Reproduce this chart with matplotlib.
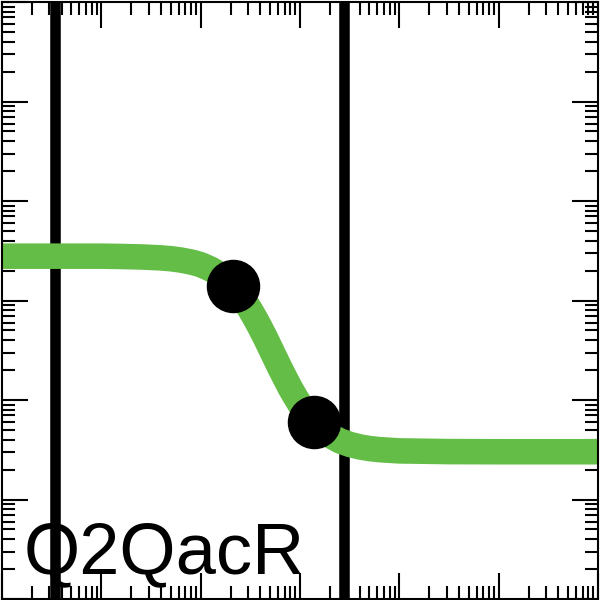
import numpy as np
import matplotlib
matplotlib.use('Agg')
import matplotlib.pyplot as plt
from matplotlib.ticker import LogLocator, NullFormatter

# curve (log-log axes)
curve_x = [0.001, 0.00316, 0.01, 0.0158, 0.0251, 0.0398, 0.0501, 0.0631, 0.0794, 0.0891,
           0.1, 0.112, 0.126, 0.141, 0.158, 0.178, 0.2, 0.224, 0.251, 0.282,
           0.316, 0.355, 0.398, 0.447, 0.501, 0.562, 0.631, 0.708, 0.794, 0.891,
           1.0, 1.12, 1.26, 1.41, 1.58, 2.0, 2.51, 3.16, 3.98, 5.01,
           6.31, 10.0, 31.6, 100.0, 1000.0]
curve_y = [2.79, 2.79, 2.79, 2.77, 2.74, 2.68, 2.63, 2.55, 2.44, 2.37,
           2.29, 2.18, 2.07, 1.94, 1.80, 1.64, 1.48, 1.31, 1.13, 0.962,
           0.804, 0.658, 0.532, 0.424, 0.335, 0.264, 0.208, 0.166, 0.133, 0.109,
           0.0904, 0.0767, 0.0662, 0.0583, 0.0522, 0.0440, 0.0389, 0.0358, 0.0338, 0.0325,
           0.0317, 0.0308, 0.0303, 0.0302, 0.0302]

# the two marked points
dot_x = [0.211, 1.37]
dot_y = [1.40, 0.0603]

# vertical reference lines
vline_x = [0.0034, 2.79]

label = 'Q2QacR'
green = '#64bd46'

fig = plt.figure(figsize=(6, 6), dpi=100)
ax = fig.add_axes([2/600, 1/600, 596/600, 597/600])

for xv in vline_x:
    ax.axvline(xv, color='black', lw=7.6, zorder=1)

ax.plot(curve_x, curve_y, color=green, lw=18.4, solid_capstyle='butt',
        solid_joinstyle='round', zorder=2)
ax.plot(dot_x, dot_y, 'o', color='black', ms=37.5, zorder=3)

ax.set_xscale('log')
ax.set_yscale('log')
ax.set_xlim(1e-3, 1e3)
ax.set_ylim(1e-3, 1e3)

for a in (ax.xaxis, ax.yaxis):
    a.set_major_locator(LogLocator(base=10, numticks=20))
    a.set_minor_locator(LogLocator(base=10, subs=np.arange(2, 10), numticks=100))
    a.set_major_formatter(NullFormatter())
    a.set_minor_formatter(NullFormatter())

ax.tick_params(which='both', direction='in', top=True, right=True, width=1.5, color='black')
ax.tick_params(which='major', length=19)
ax.tick_params(which='minor', length=9.5)
for s in ax.spines.values():
    s.set_linewidth(1.5)

ax.text(22/598, 26/597, label, transform=ax.transAxes, fontsize=52,
        family=['Liberation Sans', 'DejaVu Sans'], color='black',
        ha='left', va='baseline', zorder=0)

fig.savefig('out.png', dpi=100)
